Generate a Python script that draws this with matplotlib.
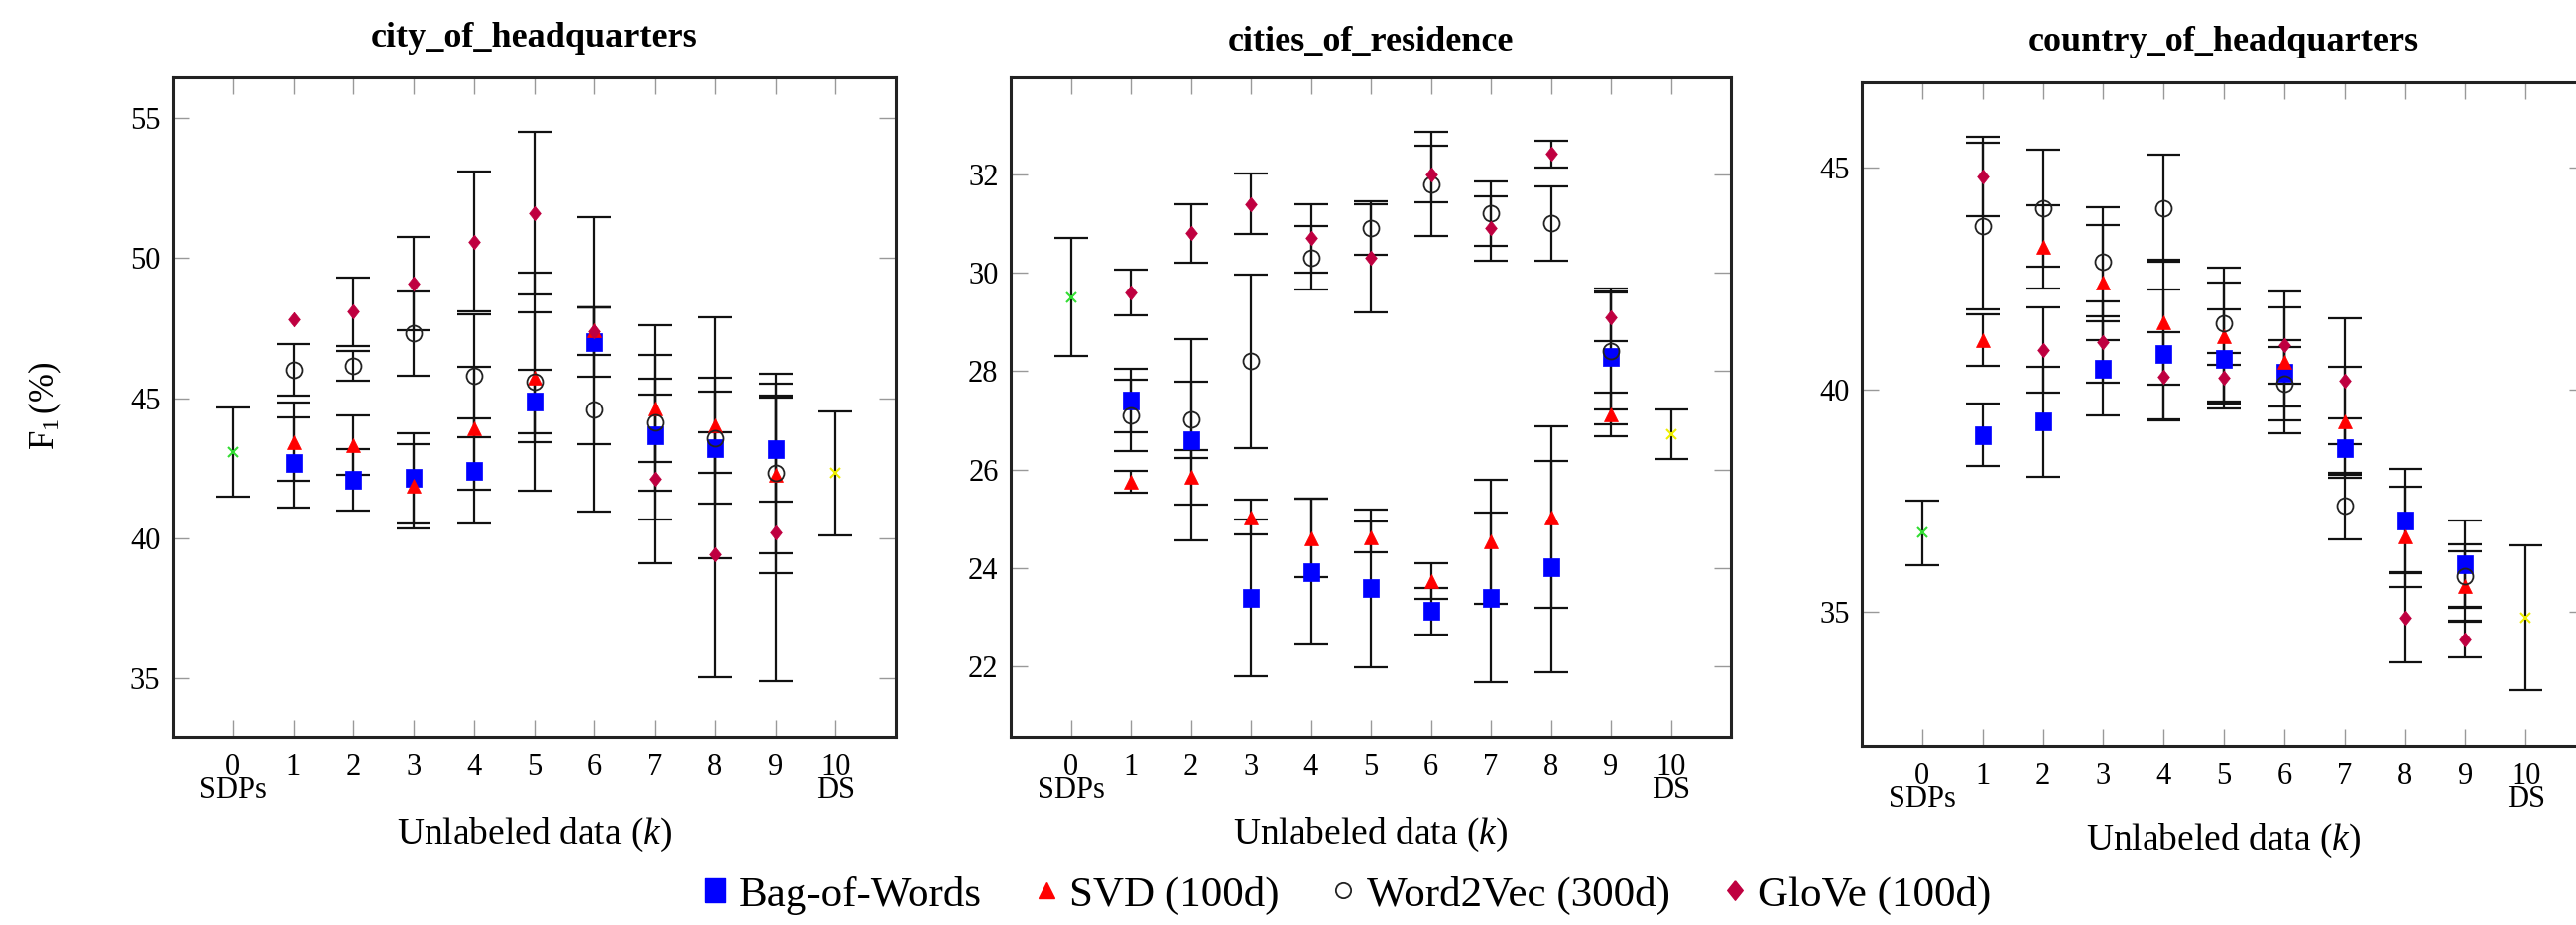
import matplotlib
matplotlib.use("Agg")
import matplotlib.pyplot as plt
import numpy as np
from matplotlib.lines import Line2D

plt.rcParams['font.family'] = ['Liberation Serif', 'DejaVu Serif']
plt.rcParams['mathtext.fontset'] = 'custom'
plt.rcParams['mathtext.rm'] = 'Liberation Serif'
plt.rcParams['mathtext.it'] = 'Liberation Serif:italic'
plt.rcParams['mathtext.bf'] = 'Liberation Serif:bold'

# ---------------- data ----------------
k_values = [1, 2, 3, 4, 5, 6, 7, 8, 9]
x_tick_labels = ['0\nSDPs', '1', '2', '3', '4', '5', '6', '7', '8', '9', '10\nDS']
series_names = ['Bag-of-Words', 'SVD (100d)', 'Word2Vec (300d)', 'GloVe (100d)']
panel_titles = ['city_of_headquarters', 'cities_of_residence', 'country_of_headquarters']

# city_of_headquarters
p1_bow = [42.70, 42.08, 42.14, 42.39, 44.88, 47.00, 43.68, 43.23, 43.19]
p1_bow_err = [1.60, 1.11, 1.60, 1.88, 1.14, 1.25, 2.00, 2.00, 1.90]
p1_svd = [43.44, 43.33, 41.86, 43.93, 45.74, 47.42, 44.63, 44.03, 42.25]
p1_svd_err = [1.40, 1.06, 1.50, 2.20, 2.32, 4.05, 1.90, 1.70, 2.77]
p1_w2v = [46.02, 46.14, 47.31, 45.81, 45.58, 44.60, 44.14, 43.58, 42.32]
p1_w2v_err = [0.92, 0.53, 1.50, 2.20, 3.90, 3.65, 3.47, 4.30, 3.55]
p1_glove = [47.80, 48.09, 49.10, 50.59, 51.60, 47.40, 42.12, 39.42, 40.20]
p1_glove_err = [0.00, 1.22, 1.67, 2.50, 2.90, 0.85, 3.00, 4.36, 5.30]
p1_sdp, p1_sdp_err = 43.08, 1.60
p1_ds, p1_ds_err = 42.32, 2.20

# cities_of_residence
p2_bow = [27.40, 26.60, 23.39, 23.92, 23.59, 23.12, 23.40, 24.02, 28.29]
p2_bow_err = [0.65, 2.05, 1.60, 1.48, 1.60, 0.48, 1.72, 2.15, 1.38]
p2_svd = [25.75, 25.84, 25.03, 24.61, 24.63, 23.74, 24.53, 25.03, 27.12]
p2_svd_err = [0.23, 0.55, 0.35, 0.80, 0.32, 0.36, 1.26, 1.85, 0.45]
p2_w2v = [27.10, 27.01, 28.20, 30.30, 30.91, 31.80, 31.20, 31.00, 28.41]
p2_w2v_err = [0.72, 0.78, 1.77, 0.65, 0.54, 1.06, 0.65, 0.76, 1.20]
p2_glove = [29.60, 30.80, 31.40, 30.70, 30.30, 32.00, 30.90, 32.41, 29.10]
p2_glove_err = [0.46, 0.60, 0.62, 0.70, 1.10, 0.57, 0.65, 0.28, 0.50]
p2_sdp, p2_sdp_err = 29.50, 1.20
p2_ds, p2_ds_err = 26.72, 0.50

# country_of_headquarters
p3_bow = [38.99, 39.29, 40.48, 40.80, 40.70, 40.38, 38.69, 37.07, 36.08]
p3_bow_err = [0.71, 1.24, 1.06, 1.46, 1.12, 0.75, 0.66, 1.16, 0.99]
p3_svd = [41.12, 43.22, 42.42, 41.52, 41.22, 40.62, 39.30, 36.70, 35.58]
p3_svd_err = [0.58, 0.94, 1.29, 1.40, 1.53, 1.60, 1.22, 1.13, 0.80]
p3_w2v = [43.69, 44.09, 42.89, 44.09, 41.49, 40.14, 37.39, np.nan, 35.82]
p3_w2v_err = [1.87, 1.32, 1.23, 1.21, 0.93, 0.83, 0.75, np.nan, 0.70]
p3_glove = [44.80, 40.90, 41.08, 40.30, 40.28, 41.00, 40.20, 34.88, 34.39]
p3_glove_err = [0.89, 0.96, 0.92, 0.99, 0.55, 0.85, 1.41, 1.00, 0.41]
p3_sdp, p3_sdp_err = 36.79, 0.72
p3_ds, p3_ds_err = 34.88, 1.63

p1_yticks = [35, 40, 45, 50, 55]
p2_yticks = [22, 24, 26, 28, 30, 32]
p3_yticks = [35, 40, 45]

# ---------------- style ----------------
W, H = 2597, 933
fig = plt.figure(figsize=(W / 100, H / 100), dpi=100)

C_BOW = '#0000ff'
C_SVD = '#ff0000'
C_GLOVE = '#bf0040'
C_SDP = '#33dd33'
C_DS = '#eeee00'

rect_marker = [(-0.42, -0.5), (0.42, -0.5), (0.42, 0.5), (-0.42, 0.5), (-0.42, -0.5)]
diamond_marker = [(0, 0.5), (0.4, 0), (0, -0.5), (-0.4, 0), (0, 0.5)]

styles = [
    dict(marker=rect_marker, ms=13, mfc=C_BOW, mec=C_BOW, mew=0.5),
    dict(marker='^', ms=9.5, mfc=C_SVD, mec=C_SVD, mew=0.5),
    dict(marker='o', ms=11.5, mfc='none', mec='#222222', mew=1.3),
    dict(marker=diamond_marker, ms=10.5, mfc=C_GLOVE, mec=C_GLOVE, mew=0.5),
]

panels = [
    dict(rect=(174, 903, 78, 743), ylim=(32.92, 56.45), yticks=p1_yticks,
         data=[(p1_bow, p1_bow_err), (p1_svd, p1_svd_err), (p1_w2v, p1_w2v_err), (p1_glove, p1_glove_err)],
         sdp=(p1_sdp, p1_sdp_err), ds=(p1_ds, p1_ds_err), title_base=47, xl_base=851),
    dict(rect=(1019, 1745, 78, 743), ylim=(20.57, 33.97), yticks=p2_yticks,
         data=[(p2_bow, p2_bow_err), (p2_svd, p2_svd_err), (p2_w2v, p2_w2v_err), (p2_glove, p2_glove_err)],
         sdp=(p2_sdp, p2_sdp_err), ds=(p2_ds, p2_ds_err), title_base=51, xl_base=851),
    dict(rect=(1877, 2607, 83, 752), ylim=(32.0, 46.92), yticks=p3_yticks,
         data=[(p3_bow, p3_bow_err), (p3_svd, p3_svd_err), (p3_w2v, p3_w2v_err), (p3_glove, p3_glove_err)],
         sdp=(p3_sdp, p3_sdp_err), ds=(p3_ds, p3_ds_err), title_base=51, xl_base=857),
]

EB = dict(fmt='none', ecolor='#111111', elinewidth=1.6, capsize=12, capthick=1.6, zorder=2)

k = np.array(k_values, dtype=float)
for i, p in enumerate(panels):
    l, r, t, b = p['rect']
    ax = fig.add_axes([l / W, 1 - b / H, (r - l) / W, (b - t) / H])
    for (vals, errs), st in zip(p['data'], styles):
        y = np.asarray(vals, float)
        e = np.asarray(errs, float)
        m = ~np.isnan(y)
        em = m & (np.nan_to_num(e) > 0)
        ax.errorbar(k[em], y[em], yerr=e[em], **EB)
        ax.plot(k[m], y[m], linestyle='none', zorder=3, **st)
    sv, se = p['sdp']
    ax.errorbar([0], [sv], yerr=[se], **EB)
    ax.plot([0], [sv], linestyle='none', marker='x', ms=7, mew=1.5, color=C_SDP, zorder=3)
    dv, de = p['ds']
    ax.errorbar([10], [dv], yerr=[de], **EB)
    ax.plot([10], [dv], linestyle='none', marker='x', ms=7, mew=1.5, color=C_DS, zorder=3)

    ax.set_xlim(-1, 11)
    ax.set_ylim(*p['ylim'])
    ax.set_xticks(range(11))
    ax.set_xticklabels(x_tick_labels, linespacing=0.72)
    ax.set_yticks(p['yticks'])
    ax.tick_params(axis='both', direction='in', length=12, width=1.0, color='#999999',
                   top=True, right=True, labelsize=22)
    ax.tick_params(axis='x', pad=12)
    ax.tick_params(axis='y', pad=9)
    for s in ax.spines.values():
        s.set_linewidth(2.2)
        s.set_color('#222222')

    cx = (l + r) / 2 / W
    fig.text(cx, 1 - p['title_base'] / H, panel_titles[i], ha='center', va='baseline',
             fontsize=26, fontweight='bold')
    fig.text(cx, 1 - p['xl_base'] / H, 'Unlabeled data ($k$)', ha='center', va='baseline',
             fontsize=27)

fig.text(45 / W, 1 - 409 / H, r'$\mathrm{F}_1\,(\%)$', rotation=90, ha='center', va='center',
         fontsize=25)

handles = [
    Line2D([], [], linestyle='none', marker=rect_marker, ms=17, mfc=C_BOW, mec=C_BOW),
    Line2D([], [], linestyle='none', marker='^', ms=12, mfc=C_SVD, mec=C_SVD),
    Line2D([], [], linestyle='none', marker='o', ms=11, mfc='none', mec='#222222', mew=1.3),
    Line2D([], [], linestyle='none', marker=diamond_marker, ms=14, mfc=C_GLOVE, mec=C_GLOVE),
]
fig.legend(handles, series_names, loc='center', bbox_to_anchor=(1358 / W, 1 - 903 / H),
           ncol=4, frameon=False, fontsize=31, handlelength=0.6, handletextpad=0.25,
           columnspacing=1.2, borderaxespad=0, borderpad=0)

fig.savefig('out.png', dpi=100)
